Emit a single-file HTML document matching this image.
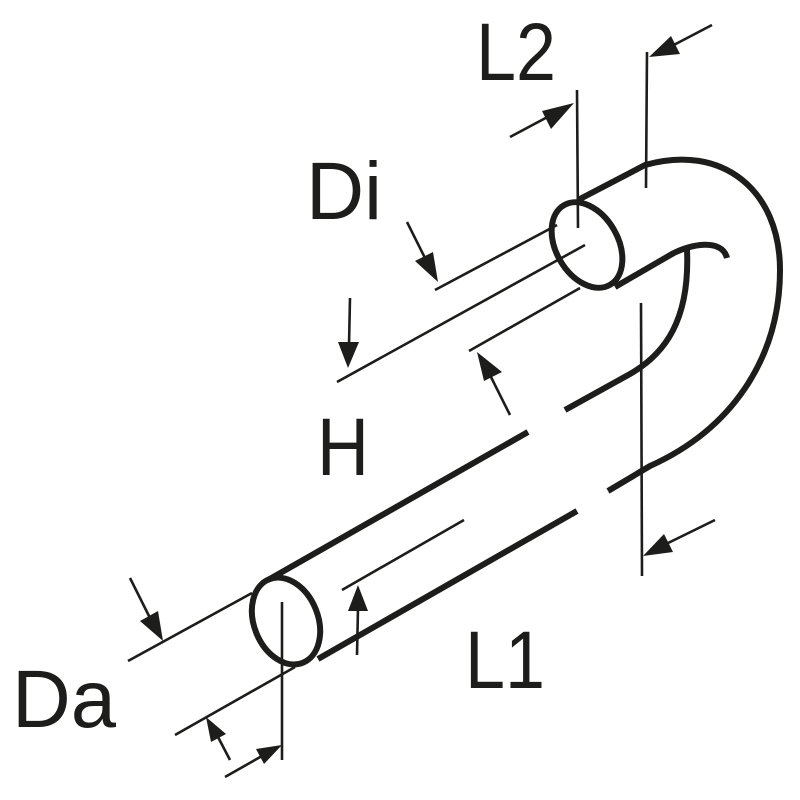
<!DOCTYPE html>
<html><head><meta charset="utf-8"><style>
html,body{margin:0;padding:0;background:#fff;}
svg{display:block;}
text{font-family:"Liberation Sans","DejaVu Sans",sans-serif;fill:#1d1d1b;font-size:82px;}
</style></head><body>
<svg width="800" height="800" viewBox="0 0 800 800" xmlns="http://www.w3.org/2000/svg">
<g fill="none" stroke="#1d1d1b" stroke-linecap="butt">
<g stroke-width="6" stroke-linejoin="round">
<ellipse cx="286" cy="621" rx="32" ry="45" transform="rotate(-22 286 621)"/>
<ellipse cx="587" cy="245" rx="31" ry="46" transform="rotate(-30 587 245)"/>
<path d="M268 580 L528 432"/>
<path d="M318 659 L577 511"/>
<path d="M565 410 L630 374 C665 354 690 320 687 250"/>
<path d="M608 491 L650 466 C730 430 780 360 780 270 C780 190 722 143 645 165 L578 200"/>
<path d="M615 287 L672 254 C690 244 722 238 727 258"/>
</g>
<g stroke-width="2.6">
<line x1="577" y1="90" x2="578" y2="228"/>
<line x1="647" y1="52" x2="646" y2="188"/>
<line x1="435" y1="290" x2="557" y2="225"/>
<line x1="337" y1="382" x2="585" y2="245"/>
<line x1="469" y1="351" x2="580" y2="288"/>
<line x1="641" y1="303" x2="642" y2="576"/>
<line x1="128" y1="661" x2="252" y2="593"/>
<line x1="175" y1="735" x2="295" y2="667"/>
<line x1="282" y1="602" x2="282" y2="760"/>
<line x1="342" y1="590" x2="464" y2="520"/>
<line x1="510" y1="137" x2="555" y2="113"/>
<line x1="712" y1="25" x2="668" y2="48"/>
<line x1="407" y1="222" x2="426" y2="260"/>
<line x1="350" y1="298" x2="349" y2="345"/>
<line x1="510" y1="415" x2="490" y2="375"/>
<line x1="715" y1="520" x2="664" y2="545"/>
<line x1="130" y1="578" x2="150" y2="618"/>
<line x1="230" y1="760" x2="218" y2="737"/>
<line x1="225" y1="777" x2="262" y2="756"/>
<line x1="357" y1="655" x2="358" y2="608"/>
</g>
</g>
<g fill="#1d1d1b">
<polygon points="574,103 551,129 542,111"/>
<polygon points="649,57 671,36 680,54"/>
<polygon points="438,282 415,261 433,252"/>
<polygon points="348,368 338,342 359,342"/>
<polygon points="477,352 502,372 484,381"/>
<polygon points="643,556 664,534 673,552"/>
<polygon points="163,641 140,621 158,611"/>
<polygon points="206,717 226,734 211,742"/>
<polygon points="282,745 264,764 256,749"/>
<polygon points="358,585 368,611 348,611"/>
</g>
<text x="476" y="80" textLength="80" lengthAdjust="spacingAndGlyphs">L2</text>
<text x="306" y="219" textLength="76" lengthAdjust="spacingAndGlyphs">Di</text>
<text x="317" y="475" textLength="52" lengthAdjust="spacingAndGlyphs">H</text>
<text x="465" y="688" textLength="80" lengthAdjust="spacingAndGlyphs">L1</text>
<text x="12" y="727" textLength="104" lengthAdjust="spacingAndGlyphs">Da</text>
</svg>
</body></html>
